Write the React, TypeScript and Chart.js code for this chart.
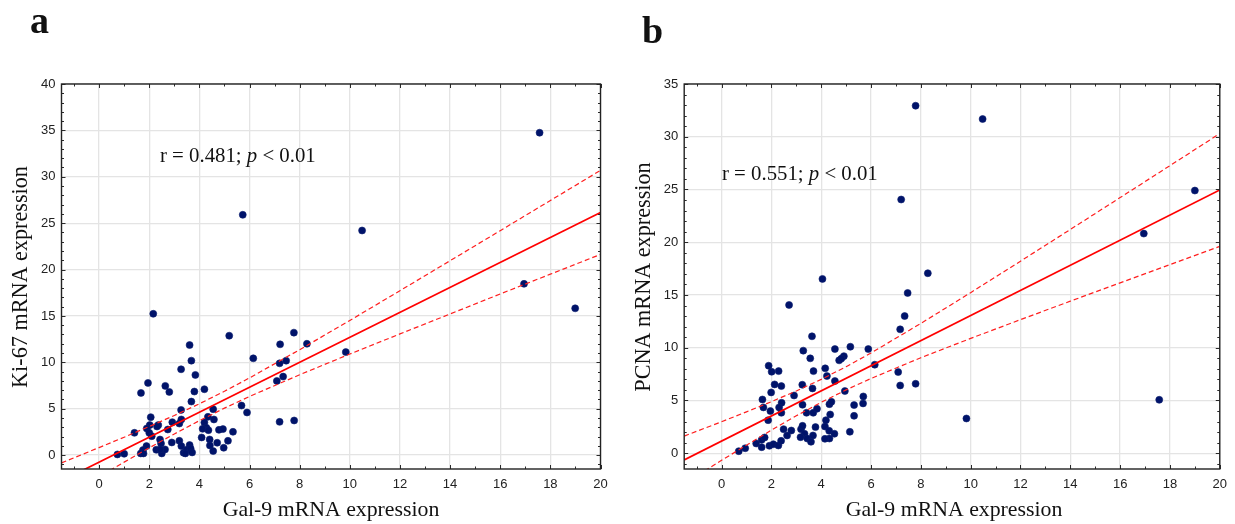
import React, { useEffect, useRef } from "react";
import { Chart, registerables } from "chart.js";

Chart.register(...registerables);

// ---------- data ----------
const xTickValues = [0, 2, 4, 6, 8, 10, 12, 14, 16, 18, 20];
const yTickValuesA = [0, 5, 10, 15, 20, 25, 30, 35, 40];
const yTickValuesB = [0, 5, 10, 15, 20, 25, 30, 35];

// panel a: Gal-9 vs Ki-67
const gal9A = [
  2.16, 5.19, 7.77, 7.22, 8.29, 3.61, 3.68, 6.15, 7.2, 7.46, 9.84, 3.27, 3.84, 1.95, 2.64, 2.8, 1.67, 3.8, 4.2, 7.09,
  7.34, 3.68, 3.27, 5.68, 5.9, 4.55, 7.2, 7.78, 2.06, 2.02, 1.9, 2.0, 2.1, 1.41, 2.36, 2.31, 2.74, 2.92, 3.2, 3.28,
  2.43, 2.47, 2.9, 3.2, 1.89, 1.75, 1.66, 1.77, 0.73, 1.0, 2.28, 2.5, 2.63, 3.28, 3.37, 3.49, 3.61, 3.65, 3.71, 3.44,
  4.09, 4.2, 4.28, 4.13, 4.36, 4.34, 4.58, 4.41, 4.42, 4.55, 4.71, 4.78, 4.94, 4.97, 5.14, 5.34, 2.44,
  17.57, 5.73, 10.49, 16.95, 18.99,
];
const ki67A = [
  15.23, 12.87, 13.2, 11.94, 12.0, 11.86, 10.18, 10.43, 9.89, 10.18, 11.1, 9.25, 8.64, 7.78, 7.46, 6.81, 6.7, 6.85, 7.1, 7.99,
  8.46, 5.77, 4.87, 5.34, 4.59, 4.95, 3.58, 3.73, 4.09, 3.23, 2.87, 2.4, 2.04, 2.4, 3.23, 3.08, 2.76, 3.55, 3.4, 3.84,
  1.68, 1.25, 1.36, 1.54, 0.97, 0.54, 0.18, 0.18, 0.07, 0.14, 0.57, 0.18, 0.61, 0.97, 0.25, 0.57, 1.08, 0.72, 0.29, 0.18,
  1.9, 3.51, 2.94, 2.83, 2.69, 4.12, 3.84, 1.68, 1.04, 0.43, 1.33, 2.72, 2.8, 0.79, 1.54, 2.51, 0.61,
  34.75, 25.9, 24.21, 18.46, 15.82,
];

// panel b: Gal-9 vs PCNA
const gal9B = [
  8.28, 4.05, 7.47, 7.35, 2.71, 7.17, 3.63, 3.28, 4.55, 5.17, 5.89, 3.56, 4.72, 4.91, 4.81, 6.15, 1.89, 2.01, 2.29, 3.69,
  4.16, 4.23, 7.09, 7.17, 7.79, 2.13, 2.4, 3.24, 4.55, 1.99, 2.91, 3.65, 1.64, 1.68, 2.41, 2.31, 2.4, 1.96, 1.87, 3.25,
  3.41, 3.68, 3.83, 4.33, 4.41, 4.36, 4.19, 4.95, 5.32, 5.68, 5.69, 5.32, 2.49, 2.8, 2.63, 3.19, 3.25, 3.33, 3.17, 3.44,
  3.59, 3.67, 3.77, 4.15, 4.32, 4.53, 4.33, 4.15, 5.15, 1.39, 1.61, 1.61, 1.73, 1.92, 2.08, 2.28, 2.39, 0.69, 0.95,
  7.79, 10.48, 7.21, 19.0, 16.95, 17.57, 9.83,
];
const pcnaB = [
  17.06, 16.52, 15.19, 13.0, 14.05, 11.74, 11.08, 9.72, 9.87, 10.09, 9.87, 8.99, 8.8, 9.2, 8.97, 8.39, 8.29, 7.72, 7.78, 7.78,
  8.04, 7.31, 7.69, 6.42, 6.58, 6.52, 6.36, 6.49, 6.84, 5.76, 5.47, 6.14, 5.09, 4.34, 4.78, 4.34, 3.83, 3.99, 3.13, 4.59,
  3.83, 3.83, 4.21, 4.65, 4.87, 3.67, 3.13, 5.89, 4.56, 4.72, 5.38, 3.54, 2.28, 2.15, 1.68, 2.28, 2.59, 1.84, 1.52, 1.39,
  1.08, 1.68, 2.47, 2.53, 2.12, 1.84, 1.39, 1.36, 2.03, 0.92, 1.27, 0.57, 1.49, 0.7, 0.85, 0.73, 1.17, 0.19, 0.47,
  32.94, 31.68, 24.05, 24.9, 20.82, 5.06, 3.29,
];

// regression lines (read at the plot edges)
const fitX = [-1.5, 20];
const fitYA = [-2.78, 26.16];
const fitYB = [-0.64, 24.95];

// 95% confidence bands
const bandX = [-1.5, 0, 1, 2, 3, 4, 5, 6, 8, 10, 12, 14, 16, 18, 20];
const upperA = [-0.84, 0.81, 1.93, 3.08, 4.27, 5.53, 6.88, 8.32, 11.36, 14.51, 17.72, 20.95, 24.19, 27.44, 30.69];
const lowerA = [-4.72, -2.33, -0.76, 0.78, 2.28, 3.71, 5.06, 6.32, 8.66, 10.89, 13.06, 15.21, 17.37, 19.5, 21.63];
const upperB = [1.62, 2.98, 3.92, 4.88, 5.9, 7.0, 8.2, 9.5, 12.3, 15.22, 18.2, 21.21, 24.23, 27.26, 30.3];
const lowerB = [-2.89, -0.68, 0.76, 2.18, 3.54, 4.82, 6.0, 7.08, 9.05, 10.88, 12.66, 14.41, 16.15, 17.88, 19.6];

// ---------- layout / styles ----------
const SERIF = '"Liberation Serif", "Times New Roman", serif';
const SANS = '"Liberation Sans", Arial, sans-serif';

type PanelSpec = {
  letter: string;
  xs: number[];
  ys: number[];
  fitY: number[];
  upper: number[];
  lower: number[];
  yMax: number;
  yTicks: number[];
  r: string;
  yTitle: string;
  canvasLeft: number;
  canvasWidth: number;
  yAxisWidth: number;
  padRight: number;
  letterX: number;
  letterY: number;
  annX: number;
  annY: number;
  xTitleX: number;
  yTitleX: number;
};

const panels: PanelSpec[] = [
  {
    letter: "a",
    xs: gal9A,
    ys: ki67A,
    fitY: fitYA,
    upper: upperA,
    lower: lowerA,
    yMax: 40,
    yTicks: yTickValuesA,
    r: "0.481",
    yTitle: "Ki-67 mRNA expression",
    canvasLeft: 0,
    canvasWidth: 617,
    yAxisWidth: 61.5,
    padRight: 16.5,
    letterX: 30,
    letterY: 33,
    annX: 160,
    annY: 162,
    xTitleX: 331,
    yTitleX: 27,
  },
  {
    letter: "b",
    xs: gal9B,
    ys: pcnaB,
    fitY: fitYB,
    upper: upperB,
    lower: lowerB,
    yMax: 35,
    yTicks: yTickValuesB,
    r: "0.551",
    yTitle: "PCNA mRNA expression",
    canvasLeft: 617,
    canvasWidth: 618,
    yAxisWidth: 67.2,
    padRight: 13,
    letterX: 25,
    letterY: 43,
    annX: 105,
    annY: 180,
    xTitleX: 337,
    yTitleX: 33,
  },
];

const HEIGHT = 524;
const TOP = 84;
const XAXIS_H = 55;

function framePlugin(p: PanelSpec) {
  return {
    id: "frame-" + p.letter,
    afterDatasetsDraw(chart: any) {
      const { ctx, chartArea } = chart;
      const xs = chart.scales.x;
      const ys = chart.scales.y;
      const { left, right, top, bottom } = chartArea;
      ctx.save();
      ctx.strokeStyle = "#2a2a2a";
      ctx.lineWidth = 1;
      ctx.beginPath();
      for (let v = Math.ceil(xs.min); v <= Math.floor(xs.max); v++) {
        const px = Math.round(xs.getPixelForValue(v)) + 0.5;
        const len = v % 2 === 0 ? 4 : 2.5;
        ctx.moveTo(px, bottom);
        ctx.lineTo(px, bottom - len);
        ctx.moveTo(px, top);
        ctx.lineTo(px, top + len);
      }
      for (let v = Math.ceil(ys.min); v <= Math.floor(ys.max); v++) {
        const py = Math.round(ys.getPixelForValue(v)) + 0.5;
        const len = v % 5 === 0 ? 4 : 2.5;
        ctx.moveTo(left, py);
        ctx.lineTo(left + len, py);
        ctx.moveTo(right, py);
        ctx.lineTo(right - len, py);
      }
      ctx.stroke();
      ctx.lineWidth = 1.4;
      ctx.strokeStyle = "#222";
      ctx.strokeRect(left, top, right - left, bottom - top);
      ctx.restore();
    },
    afterDraw(chart: any) {
      const { ctx } = chart;
      ctx.save();
      ctx.fillStyle = "#111";
      ctx.textBaseline = "alphabetic";
      // panel letter
      ctx.textAlign = "left";
      ctx.font = `bold 38px ${SERIF}`;
      ctx.fillText(p.letter, p.letterX, p.letterY);
      // annotation
      const parts: [string, boolean][] = [
        [`r = ${p.r}; `, false],
        ["p", true],
        [" < 0.01", false],
      ];
      let x = p.annX;
      for (const [t, it] of parts) {
        ctx.font = `${it ? "italic " : ""}20.8px ${SERIF}`;
        ctx.fillText(t, x, p.annY);
        x += ctx.measureText(t).width;
      }
      // x title
      ctx.font = `21.8px ${SERIF}`;
      ctx.textAlign = "center";
      ctx.fillText("Gal-9 mRNA expression", p.xTitleX, 516);
      // y title
      ctx.font = `22.2px ${SERIF}`;
      ctx.translate(p.yTitleX, 277);
      ctx.rotate(-Math.PI / 2);
      ctx.fillText(p.yTitle, 0, 0);
      ctx.restore();
    },
  };
}

function Panel({ p }: { p: PanelSpec }) {
  const ref = useRef<HTMLCanvasElement | null>(null);
  useEffect(() => {
    if (!ref.current) return;
    const points = p.xs.map((x, i) => ({ x, y: p.ys[i] }));
    const fit = fitX.map((x, i) => ({ x, y: p.fitY[i] }));
    const up = bandX.map((x, i) => ({ x, y: p.upper[i] }));
    const lo = bandX.map((x, i) => ({ x, y: p.lower[i] }));
    const bandStyle = {
      showLine: true,
      pointRadius: 0,
      borderColor: "#ff1f1f",
      borderWidth: 1.2,
      borderDash: [5, 3],
      fill: false,
      clip: 0,
      order: 0,
    };
    const chart = new Chart(ref.current, {
      type: "scatter",
      data: {
        datasets: [
          { data: fit, showLine: true, pointRadius: 0, borderColor: "#ff0000", borderWidth: 1.7, fill: false, clip: 0, order: 0 } as any,
          { data: up, ...bandStyle } as any,
          { data: lo, ...bandStyle } as any,
          {
            data: points,
            pointRadius: 3.5,
            pointBackgroundColor: "#00136a",
            pointBorderColor: "#0b1f6e",
            pointBorderWidth: 0.6,
            order: 1,
          } as any,
        ],
      },
      options: {
        responsive: false,
        animation: false,
        events: [],
        layout: { padding: { left: 0, top: TOP, right: p.padRight, bottom: 0 } },
        plugins: { legend: { display: false }, tooltip: { enabled: false } },
        scales: {
          x: {
            type: "linear",
            min: -1.5,
            max: 20,
            afterBuildTicks: (s: any) => {
              s.ticks = xTickValues.map((v) => ({ value: v }));
            },
            afterFit: (s: any) => {
              s.height = XAXIS_H;
            },
            grid: { color: "#e4e4e4", lineWidth: 1.3, drawTicks: false },
            border: { display: false },
            ticks: { padding: 8, color: "#222", autoSkip: false, maxRotation: 0, font: { family: SANS, size: 13 } },
          },
          y: {
            type: "linear",
            min: -1.5,
            max: p.yMax,
            afterBuildTicks: (s: any) => {
              s.ticks = p.yTicks.map((v) => ({ value: v }));
            },
            afterFit: (s: any) => {
              s.width = p.yAxisWidth;
            },
            grid: { color: "#e4e4e4", lineWidth: 1.3, drawTicks: false },
            border: { display: false },
            ticks: { padding: 6, color: "#222", autoSkip: false, font: { family: SANS, size: 13 } },
          },
        },
      } as any,
      plugins: [framePlugin(p)],
    });
    return () => chart.destroy();
  }, [p]);
  return (
    <canvas
      ref={ref}
      width={p.canvasWidth}
      height={HEIGHT}
      style={{ position: "absolute", left: p.canvasLeft, top: 0, width: p.canvasWidth, height: HEIGHT }}
    />
  );
}

export default function App() {
  return (
    <div style={{ position: "fixed", left: 0, top: 0, width: 1235, height: HEIGHT, background: "#fff", overflow: "hidden" }}>
      {panels.map((p) => (
        <Panel key={p.letter} p={p} />
      ))}
    </div>
  );
}
